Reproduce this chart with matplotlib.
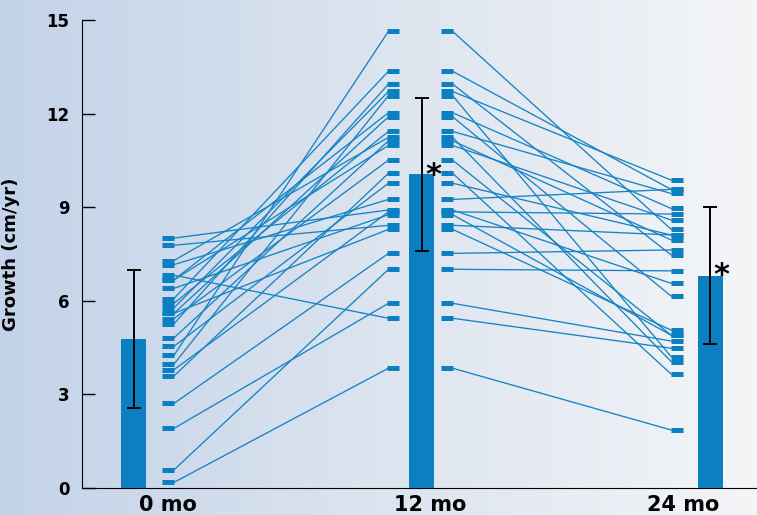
import numpy as np
import matplotlib.pyplot as plt
from matplotlib.colors import LinearSegmentedColormap

plt.rcParams['font.family'] = ['DejaVu Sans Condensed', 'DejaVu Sans']

# data
months = ['0 mo', '12 mo', '24 mo']
mean_growth = [4.78, 10.05, 6.8]
sd_growth = [2.2, 2.45, 2.2]

growth_0 = [8.01, 7.78, 7.29, 7.16, 6.82, 6.67, 6.67, 6.40, 6.07, 5.92, 5.77, 5.60, 5.60,
            5.43, 5.26, 4.81, 4.54, 4.25, 3.97, 3.79, 3.59, 2.71, 1.91, 0.58, 0.18]
growth_12 = [8.91, 8.42, 11.24, 9.25, 5.44, 12.03, 10.98, 8.76, 13.36, 11.43, 12.71, 8.29, 11.90,
             10.51, 12.95, 11.13, 9.77, 14.64, 12.58, 8.85, 10.09, 7.52, 5.92, 7.01, 3.84]
growth_24 = [6.56, 8.11, 4.05, 9.57, 4.48, 8.96, 8.59, 4.90, 9.57, 9.44, 9.87, 5.06, 6.15,
             4.90, 7.47, 7.95, 8.11, 8.29, 4.21, 8.78, 3.65, 7.63, 4.71, 6.96, 1.86]

blue = '#0a7fc2'
line_blue = '#1583c5'

fig = plt.figure(figsize=(7.57, 5.15), dpi=100)

# background gradient
bg = fig.add_axes([0, 0, 1, 1])
cmap = LinearSegmentedColormap.from_list('bg', ['#c3d3e9', '#dce4ef', '#f4f5f7'])
bg.imshow(np.linspace(0, 1, 256).reshape(1, -1), aspect='auto', cmap=cmap, extent=[0, 1, 0, 1])
bg.axis('off')

ax = fig.add_axes([82 / 757, 27 / 515, 675 / 757, 468 / 515])
ax.patch.set_alpha(0)

x = np.arange(3)
ax.bar(x, mean_growth, width=0.087, color=blue, zorder=3)
ax.errorbar(x, mean_growth, yerr=sd_growth, fmt='none', ecolor='black',
            elinewidth=1.4, capsize=5, capthick=1.4, zorder=4)

# individual patients
for g0, g12, g24 in zip(growth_0, growth_12, growth_24):
    ax.plot([0.139, 1 - 0.116], [g0, g12], color=line_blue, lw=0.95, zorder=2)
    ax.plot([1.106, 2 - 0.135], [g12, g24], color=line_blue, lw=0.95, zorder=2)

mk = dict(ls='none', marker='_', ms=8, mew=3.6, color=blue, zorder=3)
ax.plot(np.full(len(growth_0), 0.12), growth_0, **mk)
ax.plot(np.full(len(growth_12), 1 - 0.099), growth_12, **mk)
ax.plot(np.full(len(growth_12), 1 + 0.087), growth_12, **mk)
ax.plot(np.full(len(growth_24), 2 - 0.116), growth_24, **mk)

ax.text(1.038, 10.0, '*', fontsize=22, fontweight='bold', ha='center', va='center', zorder=5)
ax.text(2.04, 6.8, '*', fontsize=22, fontweight='bold', ha='center', va='center', zorder=5)

ax.set_xlim(-0.18, 2.163)
ax.set_ylim(0, 15)
ax.set_yticks([0, 3, 6, 9, 12, 15])
ax.set_xticks([0.12, 1.03, 1.906], months)
ax.tick_params(axis='y', direction='in', length=9, width=1, pad=9, labelsize=12)
ax.tick_params(axis='x', length=0, pad=5, labelsize=15)
for lab in ax.get_xticklabels() + ax.get_yticklabels():
    lab.set_fontweight('bold')

ax.spines['top'].set_visible(False)
ax.spines['right'].set_visible(False)
ax.set_ylabel('Growth (cm/yr)', fontweight='bold', fontsize=13)
ax.yaxis.set_label_coords(-0.092, 0.5)

plt.savefig('out.png', dpi=100)
